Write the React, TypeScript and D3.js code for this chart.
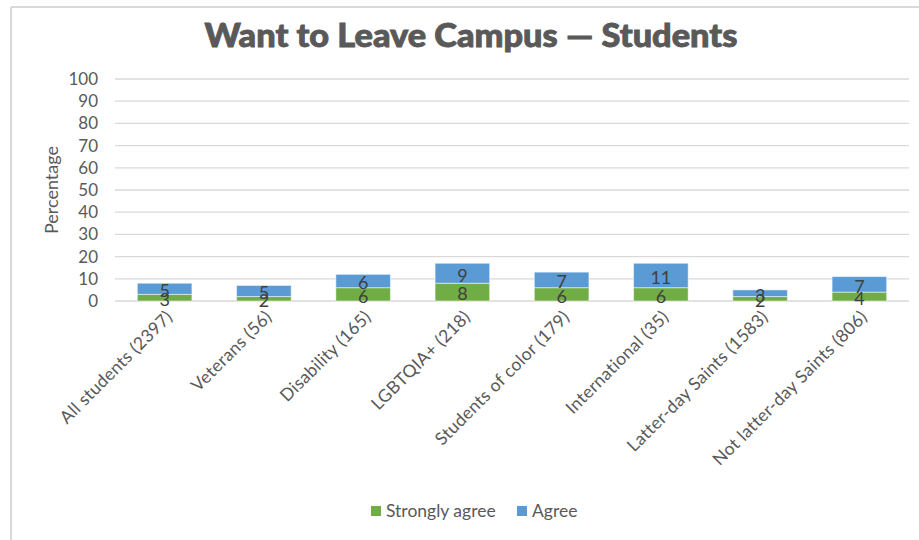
import React from 'react';
import * as d3 from 'd3';

const categories = [
  'All students (2397)',
  'Veterans (56)',
  'Disability (165)',
  'LGBTQIA+  (218)',
  'Students of color (179)',
  'International (35)',
  'Latter-day Saints (1583)',
  'Not latter-day Saints (806)',
];
const stronglyAgree = [3, 2, 6, 8, 6, 6, 2, 4];
const agree = [5, 5, 6, 9, 7, 11, 3, 7];
const yTicks = [0, 10, 20, 30, 40, 50, 60, 70, 80, 90, 100];
const seriesNames = ['Strongly agree', 'Agree'];
const seriesColors = ['#70AD47', '#5B9BD5'];

const W = 919;
const H = 540;
const plot = { left: 115, right: 909, top: 79, bottom: 301 };

const App = () => {
  const x = d3
    .scaleBand<string>()
    .domain(categories)
    .range([plot.left, plot.right])
    .paddingInner(0.45)
    .paddingOuter(0.225);
  const y = d3.scaleLinear().domain([0, 100]).range([plot.bottom, plot.top]);

  const rows = categories.map((c, i) => ({ cat: c, s: stronglyAgree[i], a: agree[i] }));
  const stacked = d3.stack<any>().keys(['s', 'a'])(rows);

  const font = 'Lato, "Noto Sans", sans-serif';

  return (
    <svg width={W} height={H} style={{ position: 'absolute', left: 0, top: 0 }}>
      <rect x={0} y={0} width={W} height={H} fill="#fff" />
      {/* chart border (only left/top visible in crop) */}
      <line x1={11} y1={7} x2={W} y2={7} stroke="#d9d9d9" strokeWidth={2} />
      <line x1={11} y1={7} x2={11} y2={H} stroke="#d9d9d9" strokeWidth={2} />

      <text
        x={471}
        y={47}
        textAnchor="middle"
        fontFamily={font}
        fontWeight={900}
        fontSize={33}
        textLength={533}
        lengthAdjust="spacingAndGlyphs"
        fill="#595959"
        stroke="#595959"
        strokeWidth={0.9}
      >
        Want to Leave Campus — Students
      </text>

      {/* gridlines + y ticks */}
      {yTicks.map((t) => (
        <g key={t}>
          <line x1={plot.left} x2={plot.right} y1={y(t)} y2={y(t)} stroke="#d9d9d9" strokeWidth={1.3} />
          <text
            x={98}
            y={y(t)}
            dy="0.35em"
            textAnchor="end"
            fontFamily={font}
            fontSize={17}
            fill="#595959"
          >
            {t}
          </text>
        </g>
      ))}

      <text
        transform={`translate(58,${(plot.top + plot.bottom) / 2}) rotate(-90)`}
        textAnchor="middle"
        fontFamily={font}
        fontSize={18}
        fill="#595959"
      >
        Percentage
      </text>

      {/* bars */}
      {stacked.map((layer, li) => (
        <g key={layer.key}>
          {layer.map((d: any) => (
            <rect
              key={d.data.cat}
              x={x(d.data.cat)}
              y={y(d[1])}
              width={x.bandwidth()}
              height={y(d[0]) - y(d[1])}
              fill={seriesColors[li]}
              stroke="#ffffff"
              strokeOpacity={0.5}
              strokeWidth={1}
            />
          ))}
        </g>
      ))}

      {/* data labels (overlap on the small bars, as in the original) */}
      {stacked.map((layer) => (
        <g key={'l' + layer.key}>
          {layer.map((d: any) => (
            <text
              key={d.data.cat}
              x={(x(d.data.cat) as number) + x.bandwidth() / 2}
              y={(y(d[0]) + y(d[1])) / 2 + 2}
              dy="0.35em"
              textAnchor="middle"
              fontFamily={font}
              fontSize={18}
              fill="#404040"
            >
              {d[1] - d[0]}
            </text>
          ))}
        </g>
      ))}

      {/* x labels */}
      {categories.map((c) => (
        <text
          key={c}
          transform={`translate(${(x(c) as number) + x.bandwidth() / 2 + 9},${plot.bottom + 17}) rotate(-45)`}
          textAnchor="end"
          fontFamily={font}
          fontSize={17.5}
          letterSpacing={0.3}
          fill="#595959"
        >
          {c}
        </text>
      ))}

      {/* legend */}
      {seriesNames.map((n, i) => {
        const lx = i === 0 ? 371 : 517;
        return (
          <g key={n}>
            <rect x={lx} y={506} width={10} height={10} fill={seriesColors[i]} />
            <text x={lx + 15} y={511} dy="0.35em" fontFamily={font} fontSize={17.5} fill="#595959">
              {n}
            </text>
          </g>
        );
      })}
    </svg>
  );
};

export default App;
